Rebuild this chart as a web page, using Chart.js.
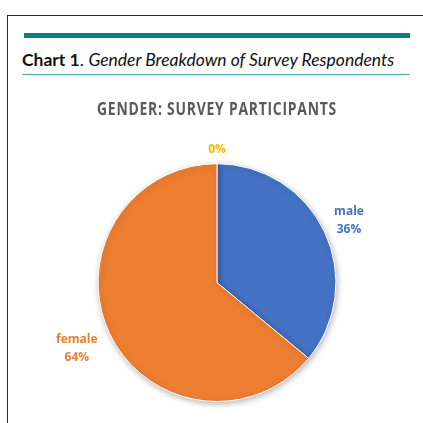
<!DOCTYPE html>
<html>
<head>
<meta charset="utf-8">
<script src="https://cdn.jsdelivr.net/npm/chart.js@4.4.1/dist/chart.umd.min.js"></script>
<style>
  html, body { margin:0; padding:0; background:#fff; }
  #wrap { position:relative; width:423px; height:423px; overflow:hidden; }
  #frame { position:absolute; left:7px; top:15px; width:430px; height:430px; border-left:1.5px solid #2b2b2b; border-top:1.5px solid #2b2b2b; box-sizing:border-box; }
  #bar { position:absolute; left:24px; top:33px; width:386px; height:5px; background:#0f7f7e; }
  #cap { position:absolute; left:22px; top:49px; font-family:Lato, sans-serif; font-size:17.5px; color:#111; white-space:nowrap; }
  #cap b { font-weight:700; }
  #rule { position:absolute; left:22px; top:74px; width:388px; height:1px; background:#4aa9a8; }
  #c { position:absolute; left:0; top:0; }
</style>
</head>
<body>
<div id="wrap">
  <div id="frame"></div>
  <div id="bar"></div>
  <div id="cap"><b>Chart 1</b>. <i>Gender Breakdown of Survey Respondents</i></div>
  <div id="rule"></div>
  <canvas id="c" width="423" height="423"></canvas>
</div>
<script>
const chartTitle = "GENDER: SURVEY PARTICIPANTS";
const categories = ["male", "female", ""];
const percentages = [36, 64, 0];
const sliceColors = ["#4472C4", "#ED7D31", "#FFC000"];
const labelColors = ["#4472C4", "#ED7D31", "#F2B800"];

const labelPlugin = {
  id: 'sliceLabels',
  beforeDraw(chart) {
    chart.ctx.letterSpacing = '1px';
  },
  beforeDatasetsDraw(chart) {
    const ctx = chart.ctx;
    ctx.letterSpacing = '0px';
    ctx.save();
    ctx.shadowColor = 'rgba(0,0,0,0.28)';
    ctx.shadowBlur = 6;
    ctx.shadowOffsetX = 1;
    ctx.shadowOffsetY = 2;
  },
  afterDatasetsDraw(chart, args, opts) {
    const ctx = chart.ctx;
    ctx.restore();
    const meta = chart.getDatasetMeta(0);
    ctx.save();
    ctx.font = "bold 12px 'Open Sans', sans-serif";
    ctx.textAlign = 'center';
    ctx.textBaseline = 'middle';
    meta.data.forEach((arc, i) => {
      const p = arc.getProps(['x','y','startAngle','endAngle','outerRadius'], true);
      const mid = (p.startAngle + p.endAngle) / 2;
      const d = p.outerRadius + opts.dist[i];
      const x = p.x + Math.cos(mid) * d;
      const y = p.y + Math.sin(mid) * d;
      ctx.fillStyle = labelColors[i];
      const lines = [];
      if (categories[i]) lines.push(categories[i]);
      lines.push(percentages[i] + '%');
      const lh = 18;
      const y0 = y - (lines.length - 1) * lh / 2;
      lines.forEach((t, k) => ctx.fillText(t, x, y0 + k * lh));
    });
    ctx.restore();
  }
};

new Chart(document.getElementById('c'), {
  type: 'pie',
  data: {
    labels: categories,
    datasets: [{
      data: percentages,
      backgroundColor: sliceColors,
      borderColor: '#ffffff',
      borderWidth: 1
    }]
  },
  options: {
    responsive: false,
    animation: false,
    layout: { padding: { top: 94, bottom: 21, left: 97, right: 86 } },
    plugins: {
      legend: { display: false },
      tooltip: { enabled: false },
      title: {
        display: true,
        text: chartTitle,
        color: '#595959',
        font: { family: "'Open Sans', sans-serif", size: 18, weight: 'bold' },
        padding: { top: 5, bottom: 42.6 }
      },
      sliceLabels: { dist: [27, 36, 14] }
    }
  },
  plugins: [labelPlugin]
});
</script>
</body>
</html>
